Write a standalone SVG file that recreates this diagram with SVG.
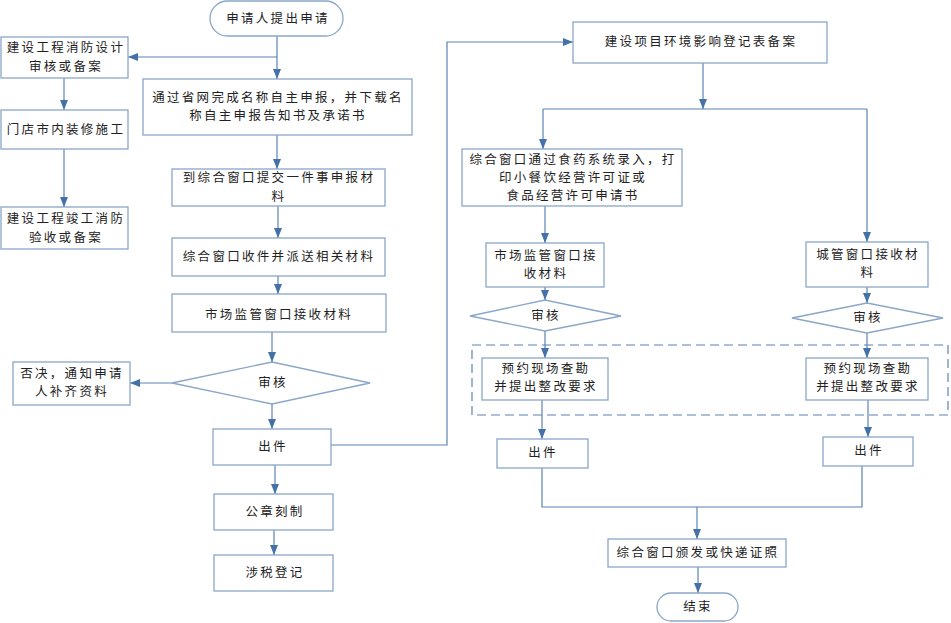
<svg xmlns="http://www.w3.org/2000/svg" width="951" height="623" viewBox="0 0 951 623">
<defs>
<marker id="arr" markerUnits="userSpaceOnUse" markerWidth="10" markerHeight="10" viewBox="0 0 10 10" refX="10" refY="5" orient="auto">
<path d="M0,1 L10,5 L0,9 Z" fill="#4472a8"/>
</marker>
<style>
.box{fill:#fff;stroke:#8aa6c8;stroke-width:1.3}
.ln{fill:none;stroke:#5b84b4;stroke-width:1.2}
.la{fill:none;stroke:#5b84b4;stroke-width:1.2;marker-end:url(#arr)}
text{font-family:"Noto Sans CJK SC","Liberation Sans",sans-serif;font-size:12.5px;fill:#222;text-anchor:middle;letter-spacing:2.3px}
</style>
</defs>
<rect width="951" height="623" fill="#fff"/>
<g id="connectors">
<path class="la" d="M277,36 V79"/>
<path class="la" d="M277,57 H128"/>
<path class="la" d="M64,78 V110"/>
<path class="la" d="M64,149 V207"/>
<path class="la" d="M277,135 V169"/>
<path class="la" d="M278,206 V238"/>
<path class="la" d="M278,276 V294"/>
<path class="la" d="M272,332 V362"/>
<path class="la" d="M172,383 H130"/>
<path class="la" d="M272,404 V429"/>
<path class="la" d="M275,465 V494"/>
<path class="la" d="M274,530 V555"/>
<path class="la" d="M331,445 H447 V42 H573"/>
<path class="la" d="M703,63 V109"/>
<path class="ln" d="M543,109 H867"/>
<path class="la" d="M543,109 V149"/>
<path class="la" d="M867,109 V242"/>
<path class="la" d="M545,206 V243"/>
<path class="la" d="M545,287 V300"/>
<path class="la" d="M867,287 V303"/>
<path class="la" d="M545,331 V358"/>
<path class="la" d="M867,333 V358"/>
<path class="la" d="M542,400 V439"/>
<path class="la" d="M868,400 V437"/>
<path class="ln" d="M542,468 V507 H862 V466"/>
<path class="la" d="M697,507 V539"/>
<path class="la" d="M698,567 V593"/>
</g>
<g id="dashed-group">
<rect x="472" y="345" width="476" height="70" fill="none" stroke="#5b84b4" stroke-width="1.2" stroke-dasharray="9,5"/>
</g>
<g id="start"><rect class="box" x="210" y="1" width="133" height="35" rx="17.5"/><text x="278" y="23">申请人提出申请</text></g>
<g id="fire-design"><rect class="box" x="1" y="37" width="127" height="41"/><text x="66" y="52">建设工程消防设计</text><text x="66" y="71">审核或备案</text></g>
<g id="renovation"><rect class="box" x="1" y="110" width="127" height="39"/><text x="66" y="134">门店市内装修施工</text></g>
<g id="fire-accept"><rect class="box" x="1" y="207" width="127" height="42"/><text x="66" y="223">建设工程竣工消防</text><text x="66" y="242">验收或备案</text></g>
<g id="name-report"><rect class="box" x="143" y="79" width="269" height="56"/><text x="278" y="102">通过省网完成名称自主申报，并下载名</text><text x="278" y="120">称自主申报告知书及承诺书</text></g>
<g id="submit"><rect class="box" x="172" y="169" width="213" height="37"/><text x="279" y="182">到综合窗口提交一件事申报材</text><text x="279" y="201">料</text></g>
<g id="receive"><rect class="box" x="172" y="238" width="213" height="38"/><text x="279" y="261">综合窗口收件并派送相关材料</text></g>
<g id="market-receive"><rect class="box" x="172" y="294" width="214" height="38"/><text x="279" y="319">市场监管窗口接收材料</text></g>
<g id="review1"><polygon class="box" points="172,383 272,362 370,383 272,404"/><text x="273" y="387">审核</text></g>
<g id="reject"><rect class="box" x="13" y="362" width="117" height="43"/><text x="72" y="378">否决，通知申请</text><text x="72" y="396">人补齐资料</text></g>
<g id="issue1"><rect class="box" x="213" y="429" width="118" height="36"/><text x="273" y="451">出件</text></g>
<g id="seal"><rect class="box" x="214" y="494" width="119" height="36"/><text x="275" y="516">公章刻制</text></g>
<g id="tax"><rect class="box" x="214" y="555" width="119" height="36"/><text x="275" y="577">涉税登记</text></g>
<g id="env"><rect class="box" x="573" y="22" width="254" height="41"/><text x="701" y="46">建设项目环境影响登记表备案</text></g>
<g id="food"><rect class="box" x="462" y="149" width="220" height="57"/><text x="573" y="164">综合窗口通过食药系统录入，打</text><text x="573" y="182">印小餐饮经营许可证或</text><text x="573" y="200">食品经营许可申请书</text></g>
<g id="market-receive2"><rect class="box" x="486" y="243" width="118" height="44"/><text x="546" y="260">市场监管窗口接</text><text x="546" y="278">收材料</text></g>
<g id="city-receive"><rect class="box" x="806" y="242" width="122" height="45"/><text x="868" y="259">城管窗口接收材</text><text x="868" y="277">料</text></g>
<g id="review2"><polygon class="box" points="470,316 545,300 621,316 545,331"/><text x="546" y="320">审核</text></g>
<g id="review3"><polygon class="box" points="792,318 867,303 943,318 867,333"/><text x="868" y="322">审核</text></g>
<g id="inspect1"><rect class="box" x="482" y="358" width="126" height="42"/><text x="546" y="373">预约现场查勘</text><text x="546" y="391">并提出整改要求</text></g>
<g id="inspect2"><rect class="box" x="806" y="358" width="122" height="42"/><text x="868" y="373">预约现场查勘</text><text x="868" y="391">并提出整改要求</text></g>
<g id="issue2"><rect class="box" x="497" y="439" width="91" height="29"/><text x="543" y="457">出件</text></g>
<g id="issue3"><rect class="box" x="823" y="437" width="90" height="29"/><text x="869" y="455">出件</text></g>
<g id="deliver"><rect class="box" x="608" y="539" width="178" height="28"/><text x="698" y="557">综合窗口颁发或快递证照</text></g>
<g id="end"><rect class="box" x="657" y="593" width="81" height="28" rx="14"/><text x="698" y="611">结束</text></g>
</svg>
